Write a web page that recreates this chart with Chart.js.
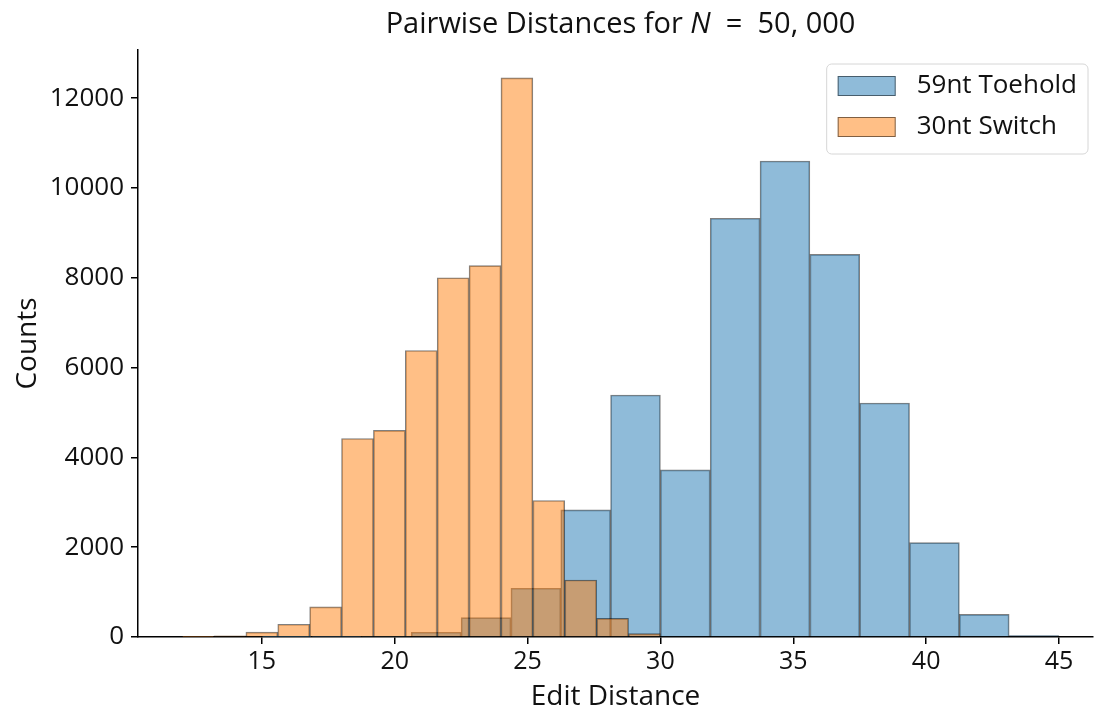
<!DOCTYPE html>
<html>
<head>
<meta charset="utf-8">
<script src="https://cdn.jsdelivr.net/npm/chart.js@4.4.1/dist/chart.umd.min.js"></script>
<style>
html, body { margin: 0; padding: 0; background: #fff; }
</style>
</head>
<body>
<canvas id="histChart" width="1094" height="714"></canvas>
<script>
// bin edges and counts
const toeholdEdges = [15, 16.875, 18.75, 20.625, 22.5, 24.375, 26.25, 28.125, 30, 31.875, 33.75, 35.625, 37.5, 39.375, 41.25, 43.125, 45];
const toeholdCounts = [2, 5, 15, 105, 430, 1085, 2830, 5390, 3720, 9325, 10600, 8520, 5210, 2100, 505, 30];

const switchEdges = [12, 13.2, 14.4, 15.6, 16.8, 18, 19.2, 20.4, 21.6, 22.8, 24, 25.2, 26.4, 27.6, 28.8, 30];
const switchCounts = [10, 25, 110, 283, 670, 4420, 4600, 6380, 8000, 8270, 12450, 3040, 1270, 415, 75];

const xTicks = [15, 20, 25, 30, 35, 40, 45];
const yTicks = [0, 2000, 4000, 6000, 8000, 10000, 12000];

const seriesNames = ['59nt Toehold', '30nt Switch'];
const titleText = ['Pairwise Distances for ', 'N', ' = 50, 000'];
const xLabel = 'Edit Distance';
const yLabel = 'Counts';

const FONT = '"Open Sans", "Noto Sans", sans-serif';
const TEXT = '#111';

// x range of the original axes (picture is cropped on the right)
const X_MIN = 10.34;
const X_MAX = 46.28;
const AXES_MID = 28.5;

function toBars(edges, counts) {
    let pts = [];
    for (let i = 0; i < counts.length; i++) {
        pts.push({ x: (edges[i] + edges[i + 1]) / 2, y: counts[i] });
    }
    return pts;
}

function fixedTicks(list) {
    return function (scale) {
        scale.ticks = list.map(v => ({ value: v }));
    };
}

// title with an italic N, like matplotlib mathtext
const titlePlugin = {
    id: 'mathTitle',
    afterDraw(chart) {
        const ctx = chart.ctx;
        const fonts = ['29px ' + FONT, 'italic 29px ' + FONT, '29px ' + FONT];
        const parts = [titleText[0], titleText[1], titleText[2].replace(' = ', '  =  ')];
        let total = 0;
        ctx.save();
        for (let i = 0; i < parts.length; i++) {
            ctx.font = fonts[i];
            total += ctx.measureText(parts[i]).width;
        }
        let x = chart.scales.x.getPixelForValue(AXES_MID) - total / 2;
        ctx.fillStyle = TEXT;
        ctx.textBaseline = 'middle';
        ctx.textAlign = 'left';
        for (let i = 0; i < parts.length; i++) {
            ctx.font = fonts[i];
            ctx.fillText(parts[i], x, 25);
            x += ctx.measureText(parts[i]).width;
        }
        ctx.restore();
    }
};

// legend box inside the axes, top right
const boxLegend = {
    id: 'boxLegend',
    afterDraw(chart) {
        const ctx = chart.ctx;
        const area = chart.chartArea;
        const sets = chart.data.datasets;
        ctx.save();
        ctx.font = '26px ' + FONT;
        let textW = 0;
        sets.forEach(d => { textW = Math.max(textW, ctx.measureText(d.label).width); });
        const pad = 11, swW = 58, swH = 20, gap = 21, rowH = 41;
        const w = pad + swW + gap + textW + pad;
        const h = rowH * sets.length + 8;
        const right = area.right - 5;
        const left = right - w;
        const top = area.top + 14;

        ctx.beginPath();
        ctx.roundRect(left, top, w, h, 5);
        ctx.fillStyle = 'rgba(255,255,255,0.8)';
        ctx.fill();
        ctx.lineWidth = 1;
        ctx.strokeStyle = '#d6d6d6';
        ctx.stroke();

        sets.forEach((d, i) => {
            const cy = top + 22 + i * rowH;
            ctx.fillStyle = '#fff';
            ctx.fillRect(left + pad, cy - swH / 2, swW, swH);
            ctx.fillStyle = d.backgroundColor;
            ctx.fillRect(left + pad, cy - swH / 2, swW, swH);
            ctx.strokeStyle = d.borderColor;
            ctx.lineWidth = 1;
            ctx.strokeRect(left + pad + 0.5, cy - swH / 2 + 0.5, swW - 1, swH - 1);
            ctx.fillStyle = TEXT;
            ctx.textBaseline = 'middle';
            ctx.fillText(d.label, left + pad + swW + gap, cy);
        });
        ctx.restore();
    }
};

let ctx = document.getElementById('histChart').getContext('2d');

let histChart = new Chart(ctx, {
    type: 'bar',
    data: {
        datasets: [{
            label: seriesNames[0],
            data: toBars(toeholdEdges, toeholdCounts),
            xAxisID: 'x',
            backgroundColor: 'rgba(31,119,180,0.5)',
            borderColor: 'rgba(0,0,0,0.5)',
            borderWidth: 1,
            order: 1
        }, {
            label: seriesNames[1],
            data: toBars(switchEdges, switchCounts),
            xAxisID: 'x2',
            backgroundColor: 'rgba(255,127,14,0.5)',
            borderColor: 'rgba(0,0,0,0.5)',
            borderWidth: 1,
            order: 0
        }]
    },
    options: {
        responsive: false,
        animation: false,
        grouped: false,
        barPercentage: 1,
        categoryPercentage: 1,
        layout: { padding: { top: 50, right: 1, left: 0, bottom: 0 } },
        plugins: {
            legend: { display: false },
            tooltip: { enabled: false },
            title: { display: false }
        },
        scales: {
            x: {
                type: 'linear',
                position: 'bottom',
                min: X_MIN,
                max: X_MAX,
                offset: false,
                afterBuildTicks: fixedTicks(xTicks),
                afterFit: s => { s.height = 77; },
                grid: { offset: false, drawOnChartArea: false, drawTicks: true, tickLength: 7, color: '#000', lineWidth: 1.5 },
                border: { display: true, color: '#000', width: 1.5 },
                ticks: { color: TEXT, font: { family: FONT, size: 25 }, padding: 3, maxRotation: 0 },
                title: { display: true, text: xLabel, color: TEXT, font: { family: FONT, size: 28 }, padding: { top: 0, bottom: 0 } }
            },
            x2: {
                type: 'linear',
                position: 'bottom',
                display: false,
                min: X_MIN,
                max: X_MAX,
                offset: false,
                afterBuildTicks: fixedTicks(xTicks),
                grid: { offset: false }
            },
            y: {
                type: 'linear',
                min: 0,
                max: 13072,
                afterBuildTicks: fixedTicks(yTicks),
                afterFit: s => { s.width = 138; },
                grid: { drawOnChartArea: false, drawTicks: true, tickLength: 7, color: '#000', lineWidth: 1.5 },
                border: { display: true, color: '#000', width: 1.5 },
                ticks: { color: TEXT, font: { family: FONT, size: 26 }, padding: 7, callback: v => String(v) },
                title: { display: true, text: yLabel, color: TEXT, font: { family: FONT, size: 28 }, padding: { top: 11, bottom: 0 } }
            }
        }
    },
    plugins: [titlePlugin, boxLegend]
});
</script>
</body>
</html>
